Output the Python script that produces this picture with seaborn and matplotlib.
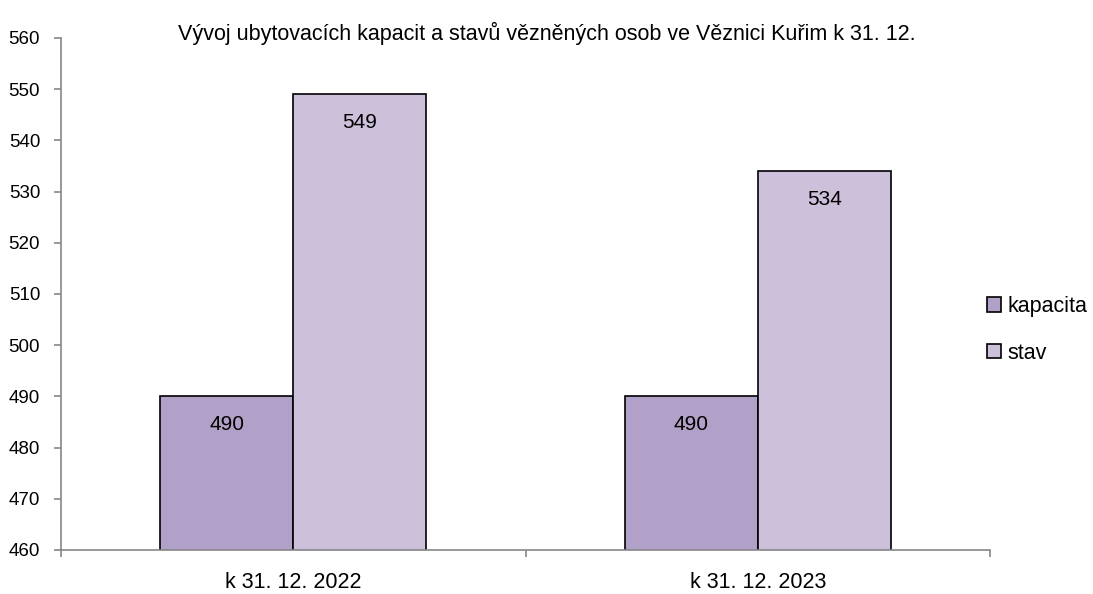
import pandas as pd
import seaborn as sns
import matplotlib.pyplot as plt

# data
kategorie = ['k 31. 12. 2022', 'k 31. 12. 2023']
kapacita = [490, 490]
stav = [549, 534]
serie = ['kapacita', 'stav']
barvy = ['#B1A0C7', '#CCC0DA']

df = pd.DataFrame({
    'rok': kategorie * 2,
    'hodnota': kapacita + stav,
    'serie': [serie[0]] * 2 + [serie[1]] * 2,
})

sns.set_style('white')
plt.rcParams['font.family'] = ['Liberation Sans', 'DejaVu Sans']
plt.rcParams['text.color'] = 'black'
plt.rcParams['xtick.color'] = 'black'
plt.rcParams['ytick.color'] = 'black'

fig = plt.figure(figsize=(10.93, 5.94), dpi=100)
ax = fig.add_axes([61 / 1093, 44 / 594, 929 / 1093, 512 / 594])

sns.barplot(data=df, x='rok', y='hodnota', hue='serie', palette=barvy,
            width=0.573, edgecolor='black', linewidth=1.2, ax=ax, legend=True,
            saturation=1)

ax.set_ylim(460, 560)
ax.set_yticks(range(460, 561, 10))
ax.set_xlim(-0.5, 1.5)
ax.set_xticks([-0.5, 0.5, 1.5])
ax.set_xticklabels([])
ax.set_xticks([0, 1], minor=True)
ax.set_xticklabels(kategorie, minor=True, fontsize=15.5)
ax.tick_params(axis='x', which='minor', length=0, pad=16, bottom=True)
ax.tick_params(axis='x', which='major', length=5, width=1.2, color='#868686',
               direction='out', bottom=True)
ax.tick_params(axis='y', length=5, width=1.2, color='#868686', direction='out',
               labelsize=13.5, pad=10, left=True)
ax.set_xlabel('')
ax.set_ylabel('')

for s in ['top', 'right']:
    ax.spines[s].set_visible(False)
for s in ['left', 'bottom']:
    ax.spines[s].set_color('#868686')
    ax.spines[s].set_linewidth(1.2)

# popisky hodnot
for cont in ax.containers:
    for bar in cont:
        h = bar.get_height()
        ax.text(bar.get_x() + bar.get_width() / 2, h - 5.5, f'{int(h)}',
                ha='center', va='center', fontsize=15)

leg = ax.legend(loc='center left', bbox_to_anchor=(0.997, 0.43), frameon=False,
                fontsize=15.5, handlelength=0.65, handleheight=0.65,
                handletextpad=0.3, labelspacing=1.2, borderpad=0, borderaxespad=0)
for p in leg.get_patches():
    p.set_edgecolor('black')
    p.set_linewidth(1.2)

fig.text(0.5, 0.944, 'Vývoj ubytovacích kapacit a stavů vězněných osob ve Věznici Kuřim k 31. 12.',
         ha='center', va='center', fontsize=15.5)

fig.savefig('out.png', dpi=100)
